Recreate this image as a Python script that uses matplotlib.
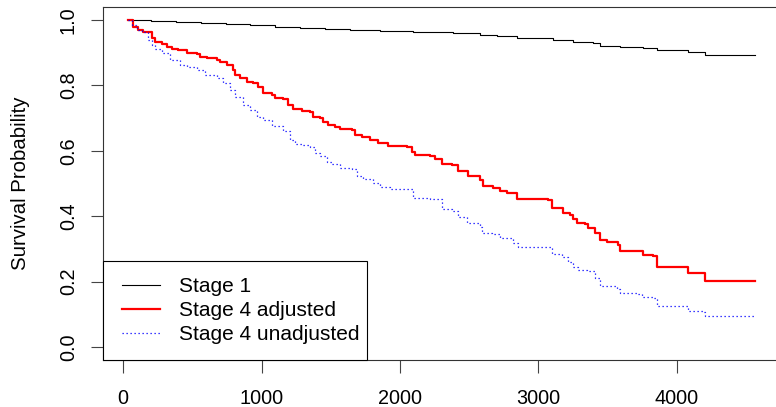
import numpy as np
import matplotlib
matplotlib.use("Agg")
import matplotlib.pyplot as plt
from matplotlib.patches import Rectangle

plt.rcParams['font.family'] = ['Liberation Sans', 'DejaVu Sans']

# step curves: time at which each level starts, survival level
stage1_t = [36, 200, 380, 560, 740, 920, 1100, 1280, 1460, 1640, 1856, 2094, 2383,
            2578, 2700, 2845, 3105, 3249, 3394, 3444, 3588, 3754, 3855, 4079, 4202, 4563]
stage1_s = [1.0, 0.997, 0.994, 0.990, 0.987, 0.984, 0.980, 0.977, 0.974, 0.970,
            0.966, 0.962, 0.959, 0.953, 0.950, 0.946, 0.940, 0.934, 0.931, 0.922,
            0.919, 0.916, 0.907, 0.901, 0.894, 0.894]

adj_t = [36, 72, 108, 144, 173, 209, 231, 282, 318, 354, 397, 462, 534, 556, 606,
         679, 700, 751, 794, 809, 845, 895, 939, 975, 1011, 1076, 1097, 1155, 1191,
         1227, 1292, 1350, 1372, 1422, 1444, 1480, 1531, 1567, 1653, 1675, 1726, 1783,
         1841, 1913, 2050, 2087, 2108, 2217, 2253, 2303, 2375, 2419, 2491, 2578, 2599,
         2671, 2722, 2772, 2845, 3068, 3097, 3177, 3227, 3249, 3278, 3336, 3357, 3408,
         3444, 3495, 3574, 3588, 3754, 3827, 3855, 4079, 4202, 4563]
adj_s = [1.0, 0.980, 0.971, 0.965, 0.962, 0.946, 0.934, 0.928, 0.919, 0.913, 0.907,
         0.900, 0.897, 0.888, 0.885, 0.879, 0.873, 0.864, 0.848, 0.833, 0.824, 0.812,
         0.806, 0.796, 0.778, 0.772, 0.763, 0.757, 0.741, 0.729, 0.723, 0.720, 0.704,
         0.701, 0.689, 0.680, 0.674, 0.668, 0.665, 0.649, 0.643, 0.634, 0.625, 0.616,
         0.613, 0.597, 0.588, 0.585, 0.576, 0.561, 0.557, 0.539, 0.524, 0.512, 0.493,
         0.487, 0.478, 0.472, 0.453, 0.450, 0.426, 0.410, 0.404, 0.392, 0.380, 0.377,
         0.364, 0.349, 0.328, 0.322, 0.312, 0.294, 0.282, 0.279, 0.245, 0.227, 0.202, 0.202]

unadj_t = [36, 65, 101, 137, 181, 209, 231, 282, 339, 412, 462, 534, 592, 679, 722,
           773, 809, 866, 917, 967, 1011, 1076, 1155, 1206, 1242, 1300, 1350, 1386,
           1422, 1473, 1509, 1567, 1653, 1689, 1733, 1805, 1856, 1928, 2094, 2217, 2303,
           2375, 2419, 2484, 2578, 2592, 2664, 2722, 2816, 2852, 3097, 3170, 3213, 3249,
           3285, 3350, 3408, 3444, 3567, 3588, 3711, 3747, 3827, 3855, 4079, 4188, 4202, 4563]
unadj_s = [1.0, 0.986, 0.971, 0.962, 0.940, 0.925, 0.910, 0.900, 0.879, 0.864, 0.855,
           0.848, 0.833, 0.824, 0.809, 0.787, 0.766, 0.741, 0.726, 0.704, 0.695, 0.677,
           0.662, 0.634, 0.622, 0.619, 0.613, 0.594, 0.585, 0.567, 0.561, 0.548, 0.545,
           0.524, 0.515, 0.502, 0.490, 0.484, 0.456, 0.453, 0.423, 0.417, 0.398, 0.380,
           0.368, 0.349, 0.346, 0.334, 0.319, 0.306, 0.285, 0.276, 0.260, 0.245, 0.236,
           0.233, 0.211, 0.187, 0.178, 0.165, 0.162, 0.153, 0.150, 0.126, 0.110, 0.107,
           0.095, 0.095]

labels = ["Stage 1", "Stage 4 adjusted", "Stage 4 unadjusted"]

fig = plt.figure(figsize=(7.76, 4.07), dpi=100)
ax = fig.add_axes([0.1327, 0.1155, 0.8724, 0.8673])

ax.step(stage1_t, stage1_s, where='post', color='black', lw=0.8, label=labels[0])
ax.step(adj_t, adj_s, where='post', color='red', lw=1.6, label=labels[1])
ax.step(unadj_t, unadj_s, where='post', color='blue', lw=0.9,
        linestyle=(0, (1, 2.2)), label=labels[2])

# R style 4% axis expansion
tmin, tmax = 36, 4563
pad = 0.04 * (tmax - tmin)
ax.set_xlim(tmin - pad, tmax + pad)
ax.set_ylim(-0.04, 1.04)

ax.set_xticks([0, 1000, 2000, 3000, 4000])
ax.set_yticks([0.0, 0.2, 0.4, 0.6, 0.8, 1.0])
ax.set_yticklabels(["0.0", "0.2", "0.4", "0.6", "0.8", "1.0"], rotation=90, va='center')
ax.tick_params(axis='both', direction='out', length=9, width=0.8, labelsize=14.3,
               color='#444444')
ax.tick_params(axis='x', pad=12)
ax.tick_params(axis='y', pad=9)
ax.spines['right'].set_visible(False)
for s in ['left', 'top', 'bottom']:
    ax.spines[s].set_linewidth(0.8)
    ax.spines[s].set_color('#333333')

ax.set_ylabel("Survival Probability", fontsize=14.7, labelpad=21)

# legend box in R style: flush to the bottom-left corner
ax.add_patch(Rectangle((0, 0), 264 / 677, 99 / 353, transform=ax.transAxes,
                       facecolor='white', edgecolor='black', lw=0.8, zorder=4,
                       clip_on=False))
leg = ax.legend(loc='lower left', bbox_to_anchor=(0, -3.4 / 353), borderaxespad=0,
                fontsize=15, frameon=False, handlelength=1.83, handletextpad=0.91,
                labelspacing=0.25, borderpad=0.91)
leg.set_zorder(5)

fig.savefig("out.png", dpi=100)
